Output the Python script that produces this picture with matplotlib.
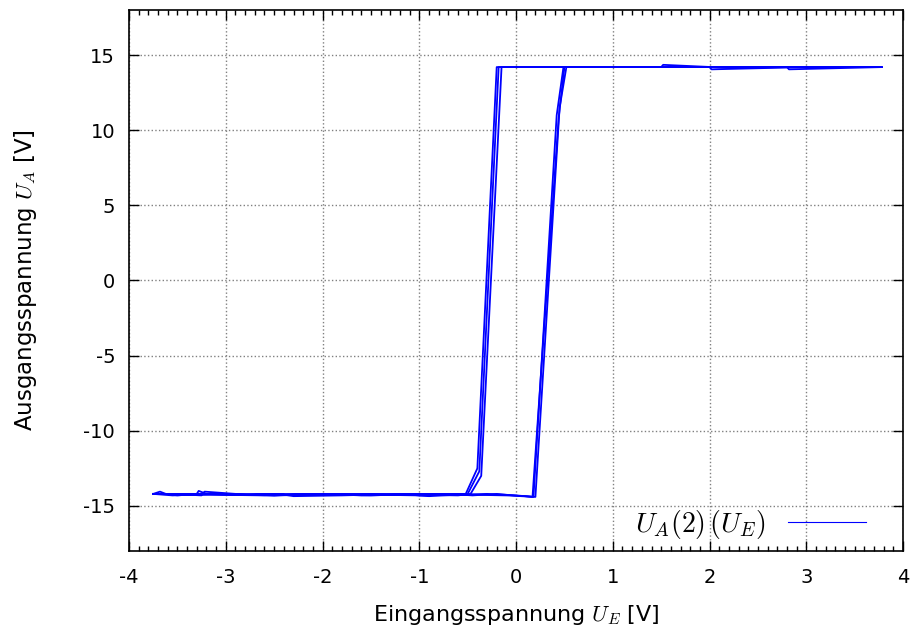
import matplotlib
matplotlib.use('Agg')
import matplotlib.pyplot as plt
from matplotlib.ticker import MultipleLocator

# Hysterese-Messung: Ausgangsspannung gegen Eingangsspannung (3 Durchläufe)
loop1_x = [-3.75, -3.68, -3.62, -3.5, -3.3, -3.28, -3.2, -2.8, -2.45, -2.3, -1.8, -1.2, -0.9, -0.6,
           -0.3, 0.0, 0.18, 0.42, 0.49, 1.0, 1.5, 1.52, 2.2, 2.8, 3.78,
           3.0, 2.0, 1.0, 0.0, -0.18, -0.38, -0.5, -1.0, -2.0, -3.0, -3.75]
loop1_y = [-14.2, -14.05, -14.2, -14.3, -14.2, -14.0, -14.2, -14.25, -14.2, -14.35, -14.3, -14.2, -14.35, -14.25,
           -14.2, -14.3, -14.4, 11.0, 14.2, 14.2, 14.2, 14.35, 14.15, 14.2, 14.2,
           14.2, 14.2, 14.2, 14.2, 14.2, -12.7, -14.2, -14.3, -14.2, -14.25, -14.2]

loop2_x = [-3.75, -3.4, -3.25, -3.22, -2.9, -2.5, -2.0, -1.6, -1.1, -0.7, -0.45, -0.2, 0.05, 0.2,
           0.45, 0.52, 0.8, 1.45, 2.0, 2.02, 3.0, 3.78,
           3.2, 2.4, 1.2, 0.3, -0.15, -0.36, -0.47, -0.6, -1.5, -2.5, -3.3, -3.75]
loop2_y = [-14.2, -14.25, -14.3, -14.05, -14.2, -14.3, -14.2, -14.3, -14.25, -14.2, -14.3, -14.2, -14.35, -14.4,
           11.5, 14.2, 14.2, 14.2, 14.2, 14.05, 14.2, 14.2,
           14.2, 14.2, 14.2, 14.2, 14.2, -13.0, -14.2, -14.3, -14.2, -14.3, -14.2, -14.2]

loop3_x = [-3.75, -3.55, -3.1, -2.7, -2.2, -1.5, -1.0, -0.5, -0.1, 0.1, 0.17,
           0.44, 0.5, 0.7, 1.2, 2.5, 2.8, 2.82, 3.78,
           2.6, 1.6, 0.5, -0.2, -0.4, -0.52, -0.8, -1.8, -2.6, -3.75]
loop3_y = [-14.2, -14.3, -14.2, -14.25, -14.2, -14.3, -14.2, -14.25, -14.3, -14.35, -14.4,
           10.8, 14.2, 14.2, 14.2, 14.2, 14.2, 14.05, 14.2,
           14.2, 14.2, 14.2, 14.2, -12.5, -14.2, -14.25, -14.2, -14.3, -14.2]

xticks = [-4, -3, -2, -1, 0, 1, 2, 3, 4]
yticks = [-15, -10, -5, 0, 5, 10, 15]

plt.rcParams['mathtext.fontset'] = 'cm'
plt.rcParams['axes.unicode_minus'] = False
plt.rcParams['font.family'] = 'DejaVu Sans'

fig = plt.figure(figsize=(9.15, 6.44), dpi=100)
ax = fig.add_axes([0.141, 0.1444, 0.846, 0.8401])

ax.plot(loop1_x, loop1_y, color='#0000ff', lw=1.3, label=r'$U_A(2)\,(U_E)$')
ax.plot(loop2_x, loop2_y, color='#0000ff', lw=1.3)
ax.plot(loop3_x, loop3_y, color='#0000ff', lw=1.3)

ax.set_xlim(-4, 4)
ax.set_ylim(-18, 18)
ax.set_xticks(xticks)
ax.set_yticks(yticks)
ax.xaxis.set_minor_locator(MultipleLocator(0.1))
ax.tick_params(which='both', direction='in', top=True, right=True, labelsize=14, width=1)
ax.tick_params(which='major', length=7)
ax.tick_params(axis='x', which='major', pad=12)
ax.tick_params(axis='y', which='major', pad=10)
ax.tick_params(which='minor', length=3.5)
for s in ax.spines.values():
    s.set_linewidth(1.2)

ax.grid(True, which='major', linestyle=':', color='gray', linewidth=1)

ax.set_xlabel(r'Eingangsspannung $U_E$ [V]', fontsize=16, labelpad=12)
ax.set_ylabel(r'Ausgangsspannung $U_A$ [V]', fontsize=16.5, labelpad=32)

leg = ax.legend(loc='lower right', frameon=False, markerfirst=False, fontsize=20,
                handlelength=2.8, handletextpad=0.8, borderaxespad=0,
                bbox_to_anchor=(0.966, -0.002))
for line in leg.get_lines():
    line.set_linewidth(0.8)

fig.savefig('out.png', dpi=100)
